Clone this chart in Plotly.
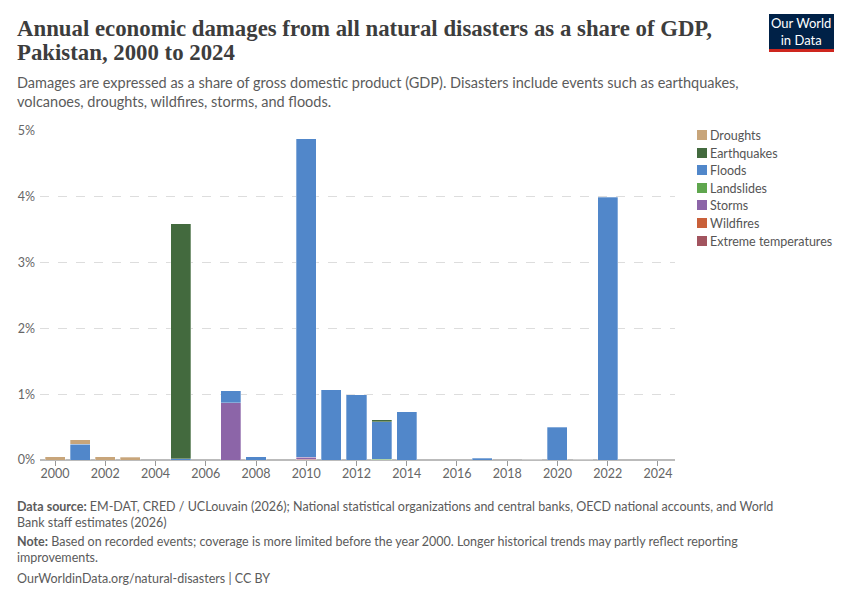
import plotly.graph_objects as go

years = list(range(2000, 2025))

droughts = {2000: 0.05, 2001: 0.07, 2002: 0.05, 2003: 0.04}
earthquakes = {2005: 3.57, 2013: 0.03}
floods = {2001: 0.24, 2005: 0.02, 2007: 0.18, 2008: 0.05, 2010: 4.84, 2011: 1.07,
          2012: 0.99, 2013: 0.57, 2014: 0.73, 2017: 0.025, 2020: 0.50, 2021: 0.006,
          2022: 3.99}
landslides = {2013: 0.012, 2019: 0.006}
storms = {2007: 0.87, 2010: 0.035}
wildfires = {}
extreme_temperatures = {2010: 0.01}

# stacking order bottom -> top
series = [
    ("Extreme temperatures", extreme_temperatures, "#a2545f"),
    ("Wildfires", wildfires, "#c9603a"),
    ("Storms", storms, "#8c65a8"),
    ("Landslides", landslides, "#5fa64e"),
    ("Floods", floods, "#5187ca"),
    ("Earthquakes", earthquakes, "#436a3e"),
    ("Droughts", droughts, "#c8a57a"),
]

y_ticks = [0, 1, 2, 3, 4, 5]
x_ticks = list(range(2000, 2025, 2))

W, H = 850, 600
PX0, PX1, PY0, PY1 = 40, 675, 131, 460


def px(x):
    return (x - PX0) / (PX1 - PX0)


def py(y):
    return (PY1 - y) / (PY1 - PY0)


fig = go.Figure()
for name, d, color in series:
    fig.add_trace(go.Bar(
        x=years, y=[d.get(yr, None) for yr in years], name=name,
        marker=dict(color=color, line=dict(color="rgba(255,255,255,0.6)", width=0.5)),
        width=0.8, hoverinfo="skip", showlegend=False,
    ))

fig.update_layout(
    width=W, height=H, barmode="stack",
    margin=dict(l=PX0, r=W - PX1, t=PY0, b=H - PY1, autoexpand=False),
    paper_bgcolor="white", plot_bgcolor="white",
    font=dict(family="Lato", color="#666666", size=12.5),
    showlegend=False,
    xaxis=dict(range=[1999.4, 2024.68], tickvals=x_ticks, ticktext=[str(t) for t in x_ticks],
               showgrid=False, zeroline=False, showline=True, linecolor="#bbbbbb", linewidth=1,
               ticks="outside", ticklen=5, tickcolor="#999999", ticklabelstandoff=-3,
               tickfont=dict(size=12.5, color="#666666")),
    yaxis=dict(range=[0, 5], tickvals=y_ticks, ticktext=[f"{t}%" for t in y_ticks],
               showgrid=True, gridcolor="#dddddd", griddash="dash", gridwidth=1,
               zeroline=True, zerolinecolor="#bbbbbb", zerolinewidth=1.5,
               ticks="", tickfont=dict(size=12.5, color="#666666"), ticklabelstandoff=4),
)

ann = []
ann.append(dict(text="<b>Annual economic damages from all natural disasters as a share of GDP,</b>",
                x=px(15), y=py(28), xanchor="left", yanchor="middle", align="left",
                font=dict(family="Liberation Serif", size=22.8, color="#3d3d3d")))
ann.append(dict(text="<b>Pakistan, 2000 to 2024</b>",
                x=px(15), y=py(53), xanchor="left", yanchor="middle", align="left",
                font=dict(family="Liberation Serif", size=22.8, color="#3d3d3d")))
ann.append(dict(text="Damages are expressed as a share of gross domestic product (GDP). Disasters include events such as earthquakes,<br>volcanoes, droughts, wildfires, storms, and floods.",
                x=px(15), y=py(72), xanchor="left", yanchor="top", align="left",
                font=dict(family="Lato", size=14.5, color="#5b5b5b")))
ann.append(dict(text="<b>Data source:</b> EM-DAT, CRED / UCLouvain (2026); National statistical organizations and central banks, OECD national accounts, and World<br>Bank staff estimates (2026)",
                x=px(15), y=py(497), xanchor="left", yanchor="top", align="left",
                font=dict(family="Lato", size=12.5, color="#5b5b5b")))
ann.append(dict(text="<b>Note:</b> Based on recorded events; coverage is more limited before the year 2000. Longer historical trends may partly reflect reporting<br>improvements.",
                x=px(15), y=py(532), xanchor="left", yanchor="top", align="left",
                font=dict(family="Lato", size=12.5, color="#5b5b5b")))
ann.append(dict(text="OurWorldinData.org/natural-disasters | CC BY",
                x=px(15), y=py(569), xanchor="left", yanchor="top", align="left",
                font=dict(family="Lato", size=12.5, color="#5b5b5b")))
ann.append(dict(text="Our World<br>in Data", x=px(801), y=py(32), xanchor="center", yanchor="middle",
                align="center", font=dict(family="Lato", size=13, color="white")))

# custom legend (top -> bottom = stack top -> bottom)
leg_rows = [135, 153, 170, 188, 205, 223, 241]
for (name, d, color), yrow in zip(reversed(series), leg_rows):
    fig.add_shape(type="rect", xref="paper", yref="paper", x0=px(697), x1=px(707),
                  y0=py(yrow + 5), y1=py(yrow - 5), fillcolor=color, line=dict(width=0))
    ann.append(dict(text=name, x=px(708), y=py(yrow), xanchor="left", yanchor="middle",
                    align="left", font=dict(family="Lato", size=12.5, color="#555555")))

for a in ann:
    a.update(xref="paper", yref="paper", showarrow=False)
fig.update_layout(annotations=ann)

fig.add_shape(type="rect", xref="paper", yref="paper", x0=px(769), x1=px(834), y0=py(49), y1=py(14),
              fillcolor="#002147", line=dict(width=0), layer="above")
fig.add_shape(type="rect", xref="paper", yref="paper", x0=px(769), x1=px(834), y0=py(52), y1=py(49),
              fillcolor="#ce261e", line=dict(width=0), layer="above")

fig.write_html("out.html")
